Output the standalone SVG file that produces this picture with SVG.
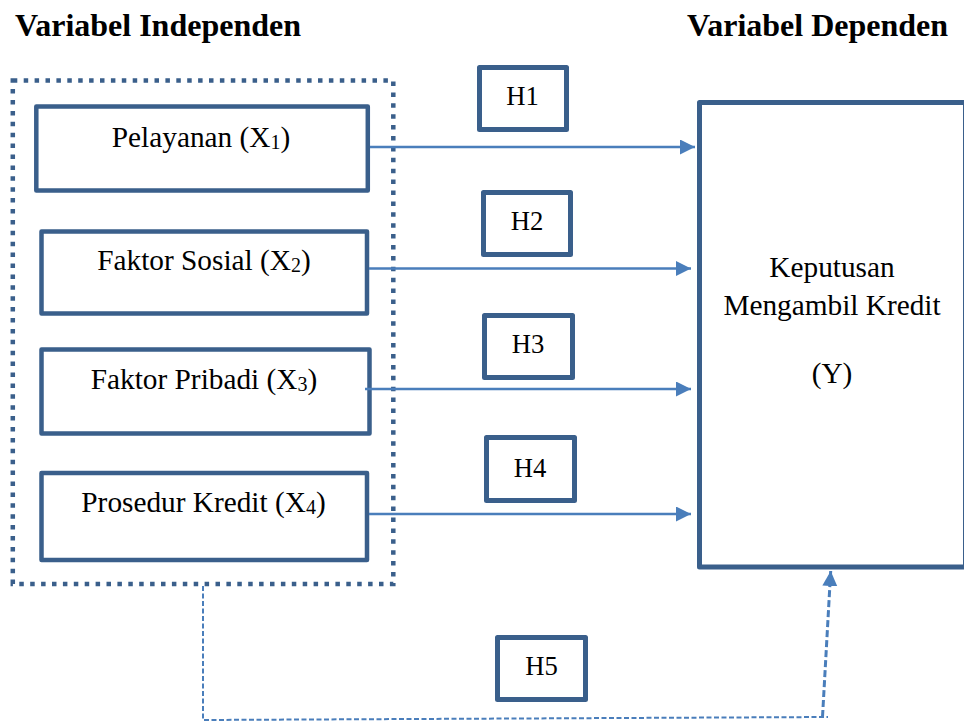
<svg xmlns="http://www.w3.org/2000/svg" width="964" height="722" viewBox="0 0 964 722">
<style>
.hd{font-family:"Liberation Serif","Times New Roman",serif;font-weight:bold;font-size:32px;fill:#000}
.tx{font-family:"Liberation Serif","Times New Roman",serif;font-size:29.3px;fill:#000;text-anchor:middle}
.ht{font-family:"Liberation Serif","Times New Roman",serif;font-size:26.7px;fill:#000;text-anchor:middle}
.sub{font-size:20px}
.box{fill:#fff;stroke:#3A5F8B;stroke-width:4.5;stroke-linejoin:round}
.hbox{fill:#fff;stroke:#3A5F8B;stroke-width:5;stroke-linejoin:round}
.arr{fill:none;stroke:#4A7EBB;stroke-width:2.6}
</style>
<defs>
<marker id="ah" markerUnits="userSpaceOnUse" markerWidth="16" markerHeight="16" refX="15" refY="7.5" orient="auto">
<path d="M0,0 L15,7.5 L0,15 z" fill="#4A7EBB"/>
</marker>
</defs>
<rect width="964" height="722" fill="#fff"/>
<text class="hd" x="15" y="36">Variabel Independen</text>
<text class="hd" x="687" y="36">Variabel Dependen</text>
<g id="container">
<rect x="12.8" y="80.5" width="380.5" height="503.5" fill="none" stroke="#3A5F8B" stroke-width="4.5" stroke-dasharray="4.5 6.4"/>
</g>
<g id="x1">
<rect class="box" x="36.3" y="106.5" width="331.5" height="84"/>
<text class="tx" x="201" y="147">Pelayanan (X<tspan class="sub" dy="2">1</tspan><tspan dy="-2">)</tspan></text>
</g>
<g id="x2">
<rect class="box" x="41.5" y="231.5" width="325.5" height="82"/>
<text class="tx" x="204" y="270">Faktor Sosial (X<tspan class="sub" dy="2">2</tspan><tspan dy="-2">)</tspan></text>
</g>
<g id="x3">
<rect class="box" x="41.5" y="349.5" width="328" height="84"/>
<text class="tx" x="204" y="389">Faktor Pribadi (X<tspan class="sub" dy="2">3</tspan><tspan dy="-2">)</tspan></text>
</g>
<g id="x4">
<rect class="box" x="41.5" y="473" width="325.5" height="87"/>
<text class="tx" x="203.5" y="511.5">Prosedur Kredit (X<tspan class="sub" dy="2">4</tspan><tspan dy="-2">)</tspan></text>
</g>
<g id="y">
<rect x="699.5" y="102.5" width="266" height="464.5" fill="#fff" stroke="#3A5F8B" stroke-width="5" stroke-linejoin="round"/>
<text class="tx" x="832" y="277">Keputusan</text>
<text class="tx" x="832" y="315">Mengambil Kredit</text>
<text class="tx" x="832" y="383">(Y)</text>
</g>
<g id="h1">
<rect class="hbox" x="479.5" y="67.5" width="87" height="62"/>
<text class="ht" x="522.5" y="105">H1</text>
</g>
<g id="h2">
<rect class="hbox" x="483.5" y="192.5" width="87" height="62"/>
<text class="ht" x="527" y="230">H2</text>
</g>
<g id="h3">
<rect class="hbox" x="484.5" y="315.5" width="88" height="62"/>
<text class="ht" x="528" y="353">H3</text>
</g>
<g id="h4">
<rect class="hbox" x="486.5" y="437.5" width="88" height="63"/>
<text class="ht" x="530" y="477">H4</text>
</g>
<g id="h5">
<rect class="hbox" x="497.5" y="637.5" width="88" height="62"/>
<text class="ht" x="541.5" y="675">H5</text>
</g>
<g id="connectors">
<line class="arr" x1="370" y1="147" x2="695" y2="147" marker-end="url(#ah)"/>
<line class="arr" x1="369" y1="268.5" x2="691" y2="268.5" marker-end="url(#ah)"/>
<line class="arr" x1="365" y1="389" x2="691" y2="389" marker-end="url(#ah)"/>
<line class="arr" x1="369" y1="514" x2="691" y2="514" marker-end="url(#ah)"/>
<path d="M203,586 V720 L828,717" fill="none" stroke="#4A7EBB" stroke-width="2" stroke-dasharray="5 2.5"/>
<path d="M822.5,717 L830.7,571" fill="none" stroke="#4A7EBB" stroke-width="3" stroke-dasharray="7 3" marker-end="url(#ah)"/>
</g>
</svg>
